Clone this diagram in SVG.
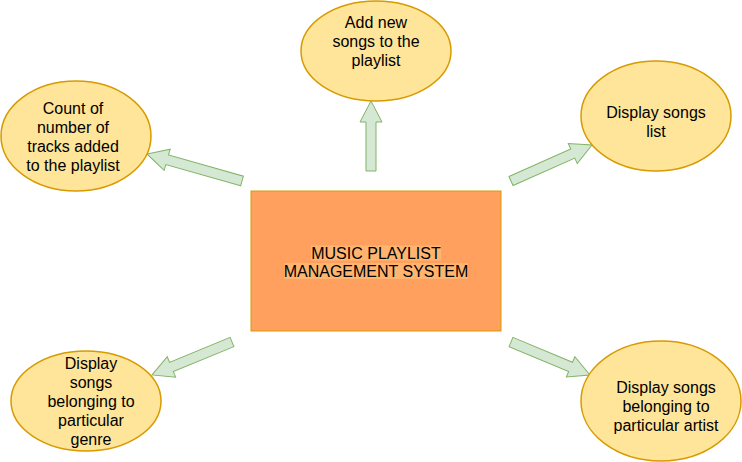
<svg xmlns="http://www.w3.org/2000/svg" width="742" height="462" viewBox="0 0 742 462">
<style>
.ell{fill:#FFE599;stroke:#D79B00;stroke-width:1.5}
.arr{fill:#D5E8D4;stroke:#82B366;stroke-width:1}
text{font-family:"Liberation Sans",Arial,Helvetica,sans-serif;font-size:16px;fill:#000;text-anchor:middle}
</style>
<rect width="742" height="462" fill="#fff"/>
<g id="connectors">
<polygon class="arr" transform="translate(371,171) rotate(-90)" points="0,-5 49,-5 49,-11 70,0 49,11 49,5 0,5"/>
<polygon class="arr" transform="translate(242,181) rotate(195.87)" points="0,-5 77.8,-5 77.8,-11 98.8,0 77.8,11 77.8,5 0,5"/>
<polygon class="arr" transform="translate(511,181) rotate(-23.96)" points="0,-5 67.6,-5 67.6,-11 88.6,0 67.6,11 67.6,5 0,5"/>
<polygon class="arr" transform="translate(232,342) rotate(157.6)" points="0,-5 65.5,-5 65.5,-11 86.5,0 65.5,11 65.5,5 0,5"/>
<polygon class="arr" transform="translate(511,342) rotate(22.67)" points="0,-5 64.6,-5 64.6,-11 85.6,0 64.6,11 64.6,5 0,5"/>
</g>
<g id="main">
<rect x="251" y="191" width="250" height="140" fill="#FFA05E" stroke="#D79B00" stroke-width="1"/>
<rect x="311" y="245.5" width="130" height="15" fill="#FFB570"/>
<rect x="284" y="263" width="184" height="16" fill="#FFB570"/>
<text x="376" y="258.5">MUSIC PLAYLIST</text>
<text x="376" y="276.5">MANAGEMENT SYSTEM</text>
</g>
<g id="add">
<ellipse class="ell" cx="376" cy="51" rx="75" ry="50"/>
<text x="376" y="28">Add new</text>
<text x="376" y="47">songs to the</text>
<text x="376" y="66">playlist</text>
</g>
<g id="count">
<ellipse class="ell" cx="76" cy="136" rx="75" ry="55"/>
<text x="73" y="113.5">Count of</text>
<text x="73" y="133">number of</text>
<text x="73" y="152">tracks added</text>
<text x="73" y="171">to the playlist</text>
</g>
<g id="list">
<ellipse class="ell" cx="656" cy="116" rx="75" ry="55"/>
<text x="656" y="117.5">Display songs</text>
<text x="656" y="136.5">list</text>
</g>
<g id="genre">
<ellipse class="ell" cx="86" cy="401" rx="75" ry="50"/>
<text x="91" y="368.5">Display</text>
<text x="91" y="387.5">songs</text>
<text x="91" y="406.5">belonging to</text>
<text x="91" y="425.5">particular</text>
<text x="91" y="444.5">genre</text>
</g>
<g id="artist">
<ellipse class="ell" cx="661" cy="401" rx="80" ry="60"/>
<text x="666" y="392.5">Display songs</text>
<text x="666" y="411.5">belonging to</text>
<text x="666" y="430.5">particular artist</text>
</g>
</svg>
